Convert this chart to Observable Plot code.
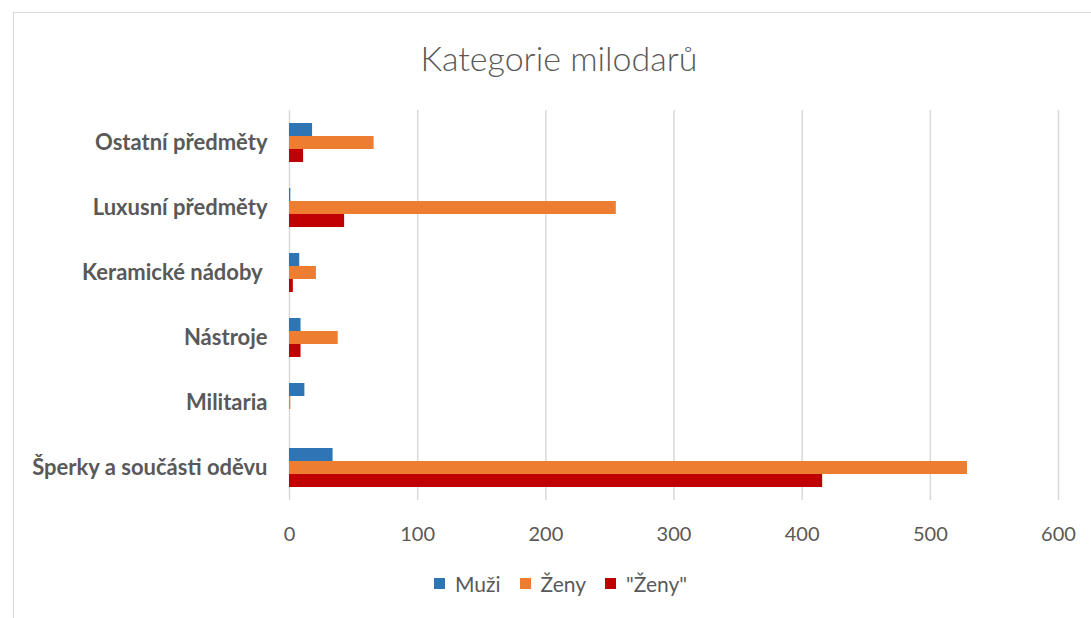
<!DOCTYPE html>
<html><head><meta charset="utf-8">
<script src="https://cdn.jsdelivr.net/npm/d3@7"></script>
<script src="https://cdn.jsdelivr.net/npm/@observablehq/plot@0.6"></script>
<style>
body{margin:0;background:#fff;font-family:Lato,"Open Sans",sans-serif;}
#wrap{position:relative;width:1091px;height:618px;overflow:hidden;}
#frame{position:absolute;left:13px;top:12px;width:1100px;height:620px;border:1px solid #d9d9d9;box-sizing:border-box;}
#title{position:absolute;left:0;width:1118px;top:37px;text-align:center;font-size:34px;font-weight:300;color:#595959;}
#chart{position:absolute;left:0;top:0;}
#legend{position:absolute;top:571px;left:434px;display:flex;align-items:center;font-size:21px;color:#595959;}
#legend span.sw{display:inline-block;width:11px;height:11px;margin-right:10px;}
#legend span.it{margin-right:19px;display:flex;align-items:center;}
</style></head>
<body><div id="wrap"><div id="frame"></div><div id="title">Kategorie milodarů</div><div id="chart"></div><div id="legend"></div></div>
<script>
const categories = ["Ostatní předměty","Luxusní předměty","Keramické nádoby\u00a0","Nástroje","Militaria","Šperky a součásti oděvu"];
const seriesNames = ["Muži","Ženy","\"Ženy\""];
const muzi = [18, 1, 8, 9, 12, 34];
const zeny = [66, 255, 21, 38, 1, 529];
const zenyQ = [11, 43, 3, 9, 0, 416];
const colors = ["#2e75b6","#ed7d31","#c00000"];
const xTicks = [0,100,200,300,400,500,600];

const allSeries = [muzi, zeny, zenyQ];
const bars = allSeries.map((vals, s) => Plot.barX(categories.map((c,i)=>({cat:c, v:vals[i]})), {
  x: "v", y: "cat", fill: colors[s],
  insetTop: 13 + 13*s, insetBottom: 39 - 13*s
}));

const plot = Plot.plot({
  width: 1091, height: 560,
  marginLeft: 289, marginRight: 33, marginTop: 110, marginBottom: 60,
  style: {fontFamily: "Lato, 'Open Sans', sans-serif", color: "#595959", background: "transparent"},
  x: {domain: [0,600], ticks: xTicks, label: null},
  y: {domain: categories, padding: 0, label: null},
  marks: [
    Plot.ruleX(xTicks, {stroke: "#d9d9d9", strokeWidth: 1.5}),
    ...bars,
    Plot.axisX({ticks: xTicks, tickSize: 0, tickPadding: 26, fontSize: 20, fill: "#595959", label: null}),
    Plot.axisY({tickSize: 0, tickPadding: 22, fontSize: 22, fontWeight: "bold", fill: "#595959", label: null})
  ]
});
document.getElementById("chart").appendChild(plot);

const lg = document.getElementById("legend");
seriesNames.forEach((n,i)=>{
  const it = document.createElement("span"); it.className="it";
  const sw = document.createElement("span"); sw.className="sw"; sw.style.background=colors[i];
  it.appendChild(sw); it.appendChild(document.createTextNode(n)); lg.appendChild(it);
});
</script></body></html>
